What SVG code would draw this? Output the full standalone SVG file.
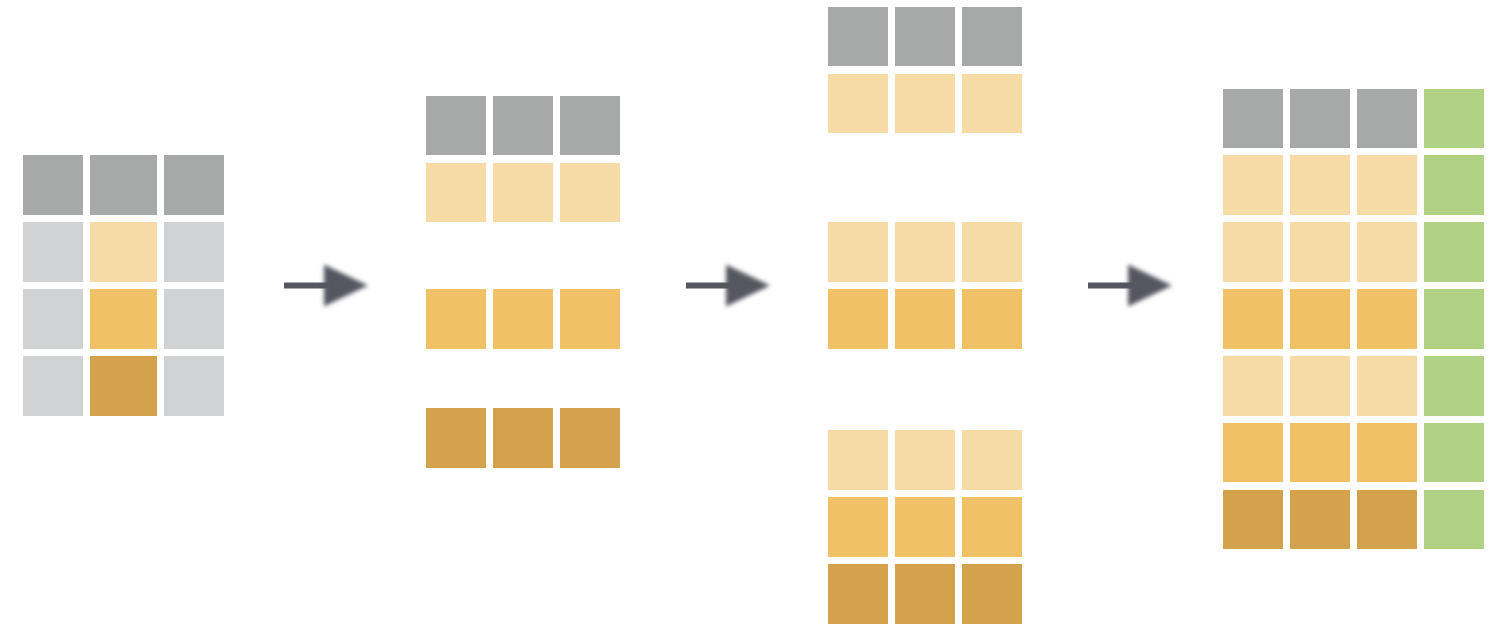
<svg xmlns="http://www.w3.org/2000/svg" width="1505" height="627" viewBox="0 0 1505 627">
<style>
.g{fill:#A7A9A8}.lg{fill:#D1D2D4}.y1{fill:#F6DBA7}.y2{fill:#F0C166}.y3{fill:#D4A24C}.gr{fill:#B1D184}
.arr line{stroke:#555760;stroke-width:6}
</style>
<defs>
<filter id="bl" x="-30%" y="-30%" width="160%" height="160%"><feGaussianBlur stdDeviation="2.2"/></filter>
<symbol id="ah" overflow="visible"><polygon points="0,-21 0,21 44,0" fill="#555760" filter="url(#bl)"/></symbol>
</defs>
<rect width="1505" height="627" fill="#fff"/>
<g id="grid1">
<rect class="g" x="23" y="155" width="60" height="60"/><rect class="g" x="90" y="155" width="67" height="60"/><rect class="g" x="164" y="155" width="60" height="60"/>
<rect class="lg" x="23" y="222" width="60" height="60"/><rect class="y1" x="90" y="222" width="67" height="60"/><rect class="lg" x="164" y="222" width="60" height="60"/>
<rect class="lg" x="23" y="289" width="60" height="60"/><rect class="y2" x="90" y="289" width="67" height="60"/><rect class="lg" x="164" y="289" width="60" height="60"/>
<rect class="lg" x="23" y="356" width="60" height="60"/><rect class="y3" x="90" y="356" width="67" height="60"/><rect class="lg" x="164" y="356" width="60" height="60"/>
</g>
<g id="grid2">
<rect class="g" x="426" y="96" width="60" height="59"/><rect class="g" x="493" y="96" width="60" height="59"/><rect class="g" x="560" y="96" width="60" height="59"/>
<rect class="y1" x="426" y="163" width="60" height="59"/><rect class="y1" x="493" y="163" width="60" height="59"/><rect class="y1" x="560" y="163" width="60" height="59"/>
<rect class="y2" x="426" y="289" width="60" height="60"/><rect class="y2" x="493" y="289" width="60" height="60"/><rect class="y2" x="560" y="289" width="60" height="60"/>
<rect class="y3" x="426" y="408" width="60" height="60"/><rect class="y3" x="493" y="408" width="60" height="60"/><rect class="y3" x="560" y="408" width="60" height="60"/>
</g>
<g id="grid3">
<rect class="g" x="828" y="7" width="60" height="59"/><rect class="g" x="895" y="7" width="60" height="59"/><rect class="g" x="962" y="7" width="60" height="59"/>
<rect class="y1" x="828" y="74" width="60" height="59"/><rect class="y1" x="895" y="74" width="60" height="59"/><rect class="y1" x="962" y="74" width="60" height="59"/>
<rect class="y1" x="828" y="222" width="60" height="60"/><rect class="y1" x="895" y="222" width="60" height="60"/><rect class="y1" x="962" y="222" width="60" height="60"/>
<rect class="y2" x="828" y="289" width="60" height="60"/><rect class="y2" x="895" y="289" width="60" height="60"/><rect class="y2" x="962" y="289" width="60" height="60"/>
<rect class="y1" x="828" y="430" width="60" height="60"/><rect class="y1" x="895" y="430" width="60" height="60"/><rect class="y1" x="962" y="430" width="60" height="60"/>
<rect class="y2" x="828" y="497" width="60" height="60"/><rect class="y2" x="895" y="497" width="60" height="60"/><rect class="y2" x="962" y="497" width="60" height="60"/>
<rect class="y3" x="828" y="564" width="60" height="60"/><rect class="y3" x="895" y="564" width="60" height="60"/><rect class="y3" x="962" y="564" width="60" height="60"/>
</g>
<g id="grid4">
<rect class="g" x="1223" y="89" width="60" height="59"/><rect class="g" x="1290" y="89" width="60" height="59"/><rect class="g" x="1357" y="89" width="60" height="59"/><rect class="gr" x="1424" y="89" width="60" height="59"/>
<rect class="y1" x="1223" y="155" width="60" height="60"/><rect class="y1" x="1290" y="155" width="60" height="60"/><rect class="y1" x="1357" y="155" width="60" height="60"/><rect class="gr" x="1424" y="155" width="60" height="60"/>
<rect class="y1" x="1223" y="222" width="60" height="60"/><rect class="y1" x="1290" y="222" width="60" height="60"/><rect class="y1" x="1357" y="222" width="60" height="60"/><rect class="gr" x="1424" y="222" width="60" height="60"/>
<rect class="y2" x="1223" y="289" width="60" height="60"/><rect class="y2" x="1290" y="289" width="60" height="60"/><rect class="y2" x="1357" y="289" width="60" height="60"/><rect class="gr" x="1424" y="289" width="60" height="60"/>
<rect class="y1" x="1223" y="356" width="60" height="60"/><rect class="y1" x="1290" y="356" width="60" height="60"/><rect class="y1" x="1357" y="356" width="60" height="60"/><rect class="gr" x="1424" y="356" width="60" height="60"/>
<rect class="y2" x="1223" y="423" width="60" height="59"/><rect class="y2" x="1290" y="423" width="60" height="59"/><rect class="y2" x="1357" y="423" width="60" height="59"/><rect class="gr" x="1424" y="423" width="60" height="59"/>
<rect class="y3" x="1223" y="490" width="60" height="59"/><rect class="y3" x="1290" y="490" width="60" height="59"/><rect class="y3" x="1357" y="490" width="60" height="59"/><rect class="gr" x="1424" y="490" width="60" height="59"/>
</g>
<g id="connectors" class="arr">
<line x1="284" y1="285.5" x2="330" y2="285.5"/><use href="#ah" x="324" y="285.5"/>
<line x1="686" y1="285.5" x2="732" y2="285.5"/><use href="#ah" x="726" y="285.5"/>
<line x1="1088" y1="285.5" x2="1134" y2="285.5"/><use href="#ah" x="1128" y="285.5"/>
</g>
</svg>
